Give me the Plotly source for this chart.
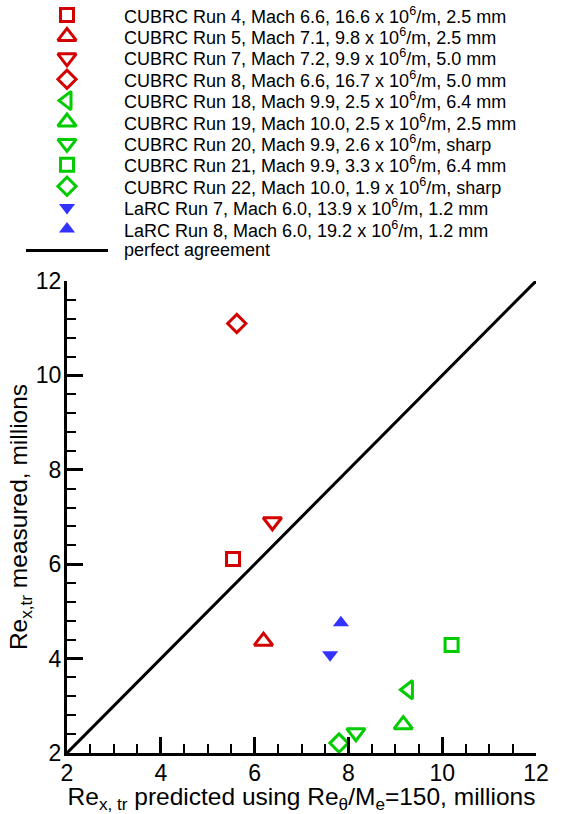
import plotly.graph_objects as go

W, H = 578, 814

# ---------------- data ----------------
series_names = [
    "CUBRC Run 4, Mach 6.6, 16.6 x 10<sup>6</sup>/m, 2.5 mm",
    "CUBRC Run 5, Mach 7.1, 9.8 x 10<sup>6</sup>/m, 2.5 mm",
    "CUBRC Run 7, Mach 7.2, 9.9 x 10<sup>6</sup>/m, 5.0 mm",
    "CUBRC Run 8, Mach 6.6, 16.7 x 10<sup>6</sup>/m, 5.0 mm",
    "CUBRC Run 18, Mach 9.9, 2.5 x 10<sup>6</sup>/m, 6.4 mm",
    "CUBRC Run 19, Mach 10.0, 2.5 x 10<sup>6</sup>/m, 2.5 mm",
    "CUBRC Run 20, Mach 9.9, 2.6 x 10<sup>6</sup>/m, sharp",
    "CUBRC Run 21, Mach 9.9, 3.3 x 10<sup>6</sup>/m, 6.4 mm",
    "CUBRC Run 22, Mach 10.0, 1.9 x 10<sup>6</sup>/m, sharp",
    "LaRC Run 7, Mach 6.0, 13.9 x 10<sup>6</sup>/m, 1.2 mm",
    "LaRC Run 8, Mach 6.0, 19.2 x 10<sup>6</sup>/m, 1.2 mm",
]
predicted = [5.54, 6.19, 6.38, 5.62, 9.28, 9.17, 8.16, 10.20, 7.80, 7.61, 7.84]
measured = [6.11, 4.37, 6.90, 11.10, 3.34, 2.60, 2.43, 4.29, 2.21, 4.08, 4.76]
agreement_name = "perfect agreement"
agreement_x = [2, 12]
agreement_y = [2, 12]
x_ticks = [2, 4, 6, 8, 10, 12]
y_ticks = [2, 4, 6, 8, 10, 12]

# ---------------- styles ----------------
RED, GREEN, BLUE = "#d40000", "#00cc00", "#3333ff"
styles = [
    dict(symbol="square-open", color=RED, size=13),
    dict(symbol="triangle-up-open", color=RED, size=16),
    dict(symbol="triangle-down-open", color=RED, size=16),
    dict(symbol="diamond-open", color=RED, size=14),
    dict(symbol="triangle-left-open", color=GREEN, size=16),
    dict(symbol="triangle-up-open", color=GREEN, size=16),
    dict(symbol="triangle-down-open", color=GREEN, size=16),
    dict(symbol="square-open", color=GREEN, size=13),
    dict(symbol="diamond-open", color=GREEN, size=14),
    dict(symbol="triangle-down", color=BLUE, size=14),
    dict(symbol="triangle-up", color=BLUE, size=14),
]

FONT = "Liberation Sans, Arial, Helvetica, sans-serif"

# plot area in pixels
PL, PR, PT, PB = 67, 536, 281, 753
# legend area
LEG_TOP, LEG_BOT = 0, 262
ROW0, ROWH = 15, 21.4
MARK_X, LINE_X0, LINE_X1, TEXT_X = 67, 26, 108, 122

fig = go.Figure()

# main chart
fig.add_trace(go.Scatter(
    x=agreement_x, y=agreement_y, mode="lines",
    line=dict(color="black", width=3), showlegend=False, name=agreement_name,
    xaxis="x", yaxis="y"))

for i, name in enumerate(series_names):
    st = styles[i]
    filled = not st["symbol"].endswith("open")
    fig.add_trace(go.Scatter(
        x=[predicted[i]], y=[measured[i]], mode="markers", name=name,
        showlegend=False, cliponaxis=False,
        marker=dict(symbol=st["symbol"], size=st["size"], color=st["color"],
                    line=dict(width=0 if filled else 3, color=st["color"])),
        xaxis="x", yaxis="y"))

# legend drawn on its own axes: row index from list order
for i, name in enumerate(series_names):
    st = styles[i]
    filled = not st["symbol"].endswith("open")
    fig.add_trace(go.Scatter(
        x=[MARK_X], y=[i], mode="markers", showlegend=False, hoverinfo="skip",
        cliponaxis=False,
        marker=dict(symbol=st["symbol"], size=st["size"], color=st["color"],
                    line=dict(width=0 if filled else 3, color=st["color"])),
        xaxis="x2", yaxis="y2"))
n = len(series_names)
fig.add_trace(go.Scatter(
    x=[LINE_X0, LINE_X1], y=[n, n], mode="lines", showlegend=False,
    hoverinfo="skip", line=dict(color="black", width=3),
    xaxis="x2", yaxis="y2"))

all_labels = series_names + [agreement_name]
for i, lab in enumerate(all_labels):
    fig.add_annotation(x=TEXT_X, y=i, xref="x2", yref="y2", text=lab,
                       showarrow=False, xanchor="left", yanchor="middle",
                       font=dict(family=FONT, size=18, color="black"))

fig.update_layout(
    width=W, height=H,
    margin=dict(l=0, r=0, t=0, b=0),
    paper_bgcolor="white", plot_bgcolor="white",
    font=dict(family=FONT, color="black"),
    xaxis=dict(
        domain=[PL / W, PR / W], range=[2, 12], anchor="y",
        tickvals=x_ticks, ticks="inside", ticklen=16, tickwidth=3,
        tickcolor="black", showline=True, linewidth=3, linecolor="black",
        showgrid=False, zeroline=False, tickfont=dict(size=23),
        ticklabelstandoff=-3,
        minor=dict(dtick=0.5, tick0=2, ticks="inside", ticklen=9,
                   tickwidth=1.5, tickcolor="black", showgrid=False),
        title=dict(text="Re<sub>x, tr</sub> predicted using Re<sub>θ</sub>/M<sub>e</sub>=150, millions",
                   font=dict(size=24.5), standoff=8),
        automargin=False,
    ),
    yaxis=dict(
        domain=[(H - PB) / H, (H - PT) / H], range=[2, 12], anchor="x",
        tickvals=y_ticks, ticks="inside", ticklen=16, tickwidth=3,
        tickcolor="black", showline=True, linewidth=3, linecolor="black",
        showgrid=False, zeroline=False, tickfont=dict(size=23),
        ticklabelstandoff=-2,
        minor=dict(dtick=0.4, tick0=2, ticks="inside", ticklen=9,
                   tickwidth=1.5, tickcolor="black", showgrid=False),
        title=dict(text="Re<sub>x,tr</sub> measured, millions",
                   font=dict(size=24.5), standoff=1),
        automargin=False,
    ),
    xaxis2=dict(domain=[0, 1], range=[0, W], anchor="y2", visible=False,
                fixedrange=True),
    yaxis2=dict(domain=[(H - LEG_BOT) / H, (H - LEG_TOP) / H],
                range=[(LEG_BOT - ROW0) / ROWH, -ROW0 / ROWH],
                anchor="x2", visible=False, fixedrange=True),
)

fig.write_html(
    "out.html",
    config={"displayModeBar": False},
    post_script="document.body.style.margin='0';document.body.style.overflow='hidden';",
)
